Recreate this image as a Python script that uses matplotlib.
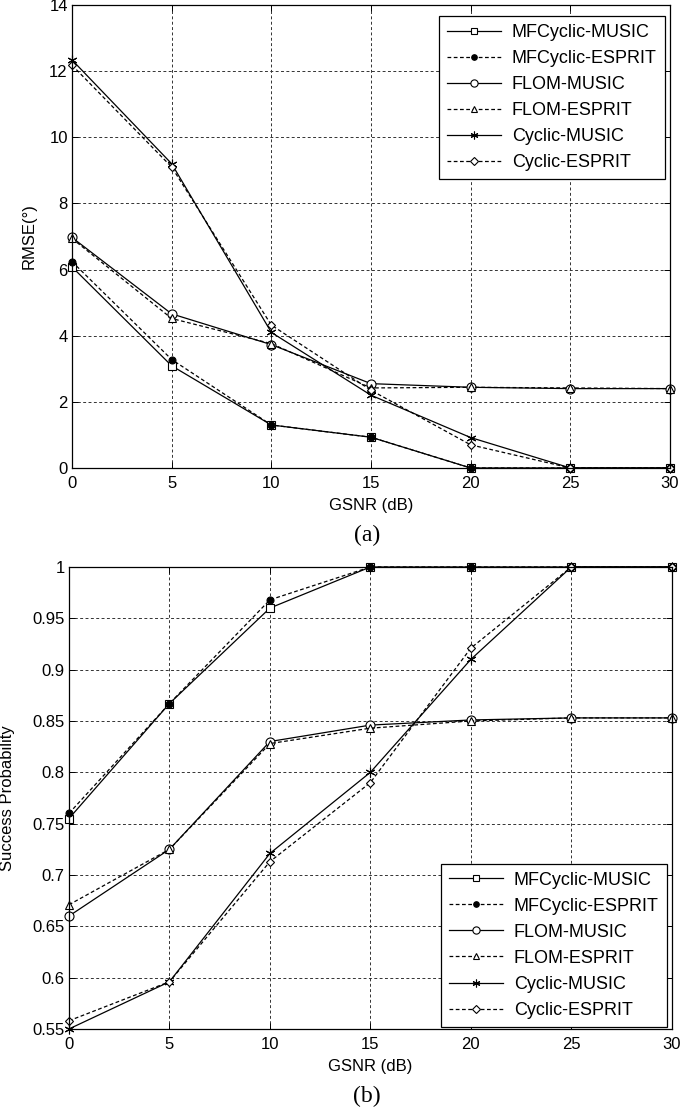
import matplotlib.pyplot as plt

plt.rcParams['font.family'] = ['Liberation Sans', 'DejaVu Sans']

gsnr = [0, 5, 10, 15, 20, 25, 30]
labels = ['MFCyclic-MUSIC', 'MFCyclic-ESPRIT', 'FLOM-MUSIC',
          'FLOM-ESPRIT', 'Cyclic-MUSIC', 'Cyclic-ESPRIT']

# (a) RMSE in degrees
rmse_mf_music = [6.08, 3.09, 1.30, 0.93, 0.0, 0.0, 0.0]
rmse_mf_esprit = [6.24, 3.28, 1.30, 0.93, 0.0, 0.0, 0.0]
rmse_flom_music = [6.97, 4.66, 3.73, 2.55, 2.44, 2.40, 2.40]
rmse_flom_esprit = [6.94, 4.52, 3.76, 2.42, 2.44, 2.42, 2.40]
rmse_cyc_music = [12.34, 9.20, 4.10, 2.20, 0.92, 0.0, 0.0]
rmse_cyc_esprit = [12.18, 9.10, 4.32, 2.35, 0.70, 0.0, 0.0]

# (b) success probability
sp_mf_music = [0.755, 0.867, 0.960, 1.0, 1.0, 1.0, 1.0]
sp_mf_esprit = [0.760, 0.867, 0.968, 1.0, 1.0, 1.0, 1.0]
sp_flom_music = [0.660, 0.725, 0.830, 0.846, 0.851, 0.853, 0.853]
sp_flom_esprit = [0.671, 0.725, 0.828, 0.843, 0.850, 0.853, 0.853]
sp_cyc_music = [0.550, 0.596, 0.721, 0.800, 0.910, 1.0, 1.0]
sp_cyc_esprit = [0.558, 0.596, 0.713, 0.790, 0.921, 1.0, 1.0]

styles = [
    dict(ls='-', marker='s', mfc='white', ms=6),
    dict(ls='--', marker='o', mfc='black', ms=5),
    dict(ls='-', marker='o', mfc='white', ms=6.5),
    dict(ls='--', marker='^', mfc='white', ms=6),
    dict(ls='-', marker=(6, 2, 0), mfc='black', ms=7),
    dict(ls='--', marker='D', mfc='white', ms=4.5),
]


def draw(ax, series, ylim, yticks, yticklabels, ylabel, loc, anchor):
    for y, lab, st in zip(series, labels, styles):
        ax.plot(gsnr, y, color='black', lw=0.9, mec='black', mew=0.8,
                dashes=(3, 2) if st['ls'] == '--' else (None, None),
                label=lab, **{k: v for k, v in st.items() if k != 'ls'},
                clip_on=False)
    ax.set_xlim(0, 30)
    ax.set_ylim(*ylim)
    ax.set_xticks(gsnr)
    ax.set_yticks(yticks)
    ax.set_yticklabels(yticklabels)
    ax.grid(True, color='#333333', ls=(0, (3, 2.5)), lw=0.7)
    ax.tick_params(direction='in', top=True, right=True, labelsize=12,
                   length=4, width=0.7)
    ax.tick_params(axis='x', pad=6)
    ax.tick_params(axis='y', pad=3)
    for s in ax.spines.values():
        s.set_linewidth(0.9)
    ax.set_xlabel('GSNR (dB)', fontsize=12, labelpad=5)
    ax.set_ylabel(ylabel, fontsize=12)
    leg = ax.legend(loc=loc, bbox_to_anchor=anchor, fontsize=13,
                    handlelength=3.0, fancybox=False, framealpha=1,
                    edgecolor='black', borderaxespad=0, labelspacing=0.5,
                    borderpad=0.45, handletextpad=0.6, markerscale=0.8)
    leg.get_frame().set_linewidth(0.9)


fig = plt.figure(figsize=(6.85, 11.1), dpi=100)

ax1 = fig.add_axes([0.1051, 0.5784, 0.873, 0.4171])
draw(ax1, [rmse_mf_music, rmse_mf_esprit, rmse_flom_music,
           rmse_flom_esprit, rmse_cyc_music, rmse_cyc_esprit],
     (0, 14), list(range(0, 15, 2)), [str(v) for v in range(0, 15, 2)],
     'RMSE(°)', 'upper right', (0.9916, 0.976))
ax1.yaxis.set_label_coords(-0.0585, 0.5)

ax2 = fig.add_axes([0.1007, 0.0730, 0.880, 0.4162])
pticks = [0.55, 0.6, 0.65, 0.7, 0.75, 0.8, 0.85, 0.9, 0.95, 1.0]
draw(ax2, [sp_mf_music, sp_mf_esprit, sp_flom_music,
           sp_flom_esprit, sp_cyc_music, sp_cyc_esprit],
     (0.55, 1.0), pticks, ['0.55', '0.6', '0.65', '0.7', '0.75', '0.8',
                          '0.85', '0.9', '0.95', '1'],
     'Success Probability', 'lower right', (0.9917, 0.0043))
ax2.yaxis.set_label_coords(-0.0896, 0.5)

fig.text(0.536, 0.518, '(a)', fontsize=17, family='Liberation Serif',
         ha='center', va='center')
fig.text(0.536, 0.012, '(b)', fontsize=17, family='Liberation Serif',
         ha='center', va='center')

fig.savefig('out.png', dpi=100)
